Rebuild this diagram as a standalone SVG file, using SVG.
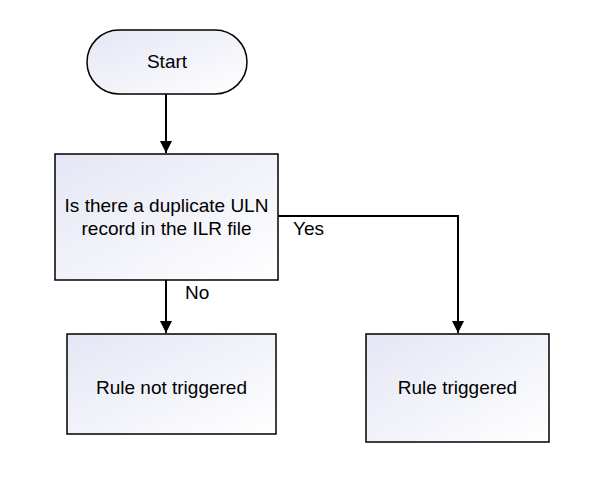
<svg xmlns="http://www.w3.org/2000/svg" width="589" height="492" viewBox="0 0 589 492">
<style>
.node{stroke:#000;stroke-width:1.5;fill:url(#g)}
.t{font-family:"Liberation Sans",Arial,sans-serif;font-size:19px;fill:#000;text-anchor:middle}
.l{font-family:"Liberation Sans",Arial,sans-serif;font-size:19px;fill:#000}
.c{stroke:#000;stroke-width:2;fill:none;marker-end:url(#a)}
</style>
<defs>
<linearGradient id="g" x1="0" y1="0" x2="1" y2="1">
<stop offset="0" stop-color="#e4e6f4"/>
<stop offset="1" stop-color="#ffffff"/>
</linearGradient>
<marker id="a" markerWidth="12" markerHeight="12" refX="12" refY="6" orient="auto" markerUnits="userSpaceOnUse">
<path d="M0,0 L12,6 L0,12 Z" fill="#000"/>
</marker>
</defs>
<rect width="589" height="492" fill="#fff"/>
<g id="connectors">
<path class="c" d="M166,94 L166,153"/>
<path class="c" d="M278,216 L458,216 L458,333"/>
<path class="c" d="M166,280 L166,333"/>
<text class="l" x="293" y="235">Yes</text>
<text class="l" x="185" y="299">No</text>
</g>
<g id="start">
<rect class="node" x="87" y="30" width="160" height="64" rx="32"/>
<text class="t" x="167" y="68">Start</text>
</g>
<g id="decision">
<rect class="node" x="55" y="154" width="223" height="126"/>
<text class="t" x="166.5" y="212">Is there a duplicate ULN</text>
<text class="t" x="166.5" y="235">record in the ILR file</text>
</g>
<g id="not-triggered">
<rect class="node" x="67" y="334" width="209" height="100"/>
<text class="t" x="171.5" y="394">Rule not triggered</text>
</g>
<g id="triggered">
<rect class="node" x="366" y="334" width="183" height="108"/>
<text class="t" x="457.5" y="394">Rule triggered</text>
</g>
</svg>
